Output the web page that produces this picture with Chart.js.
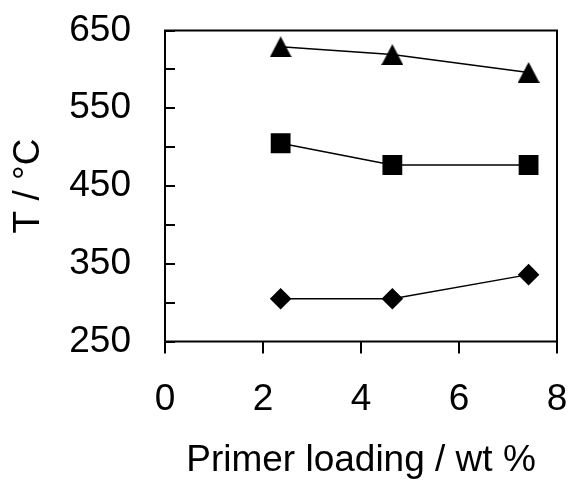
<!DOCTYPE html>
<html><head><meta charset="utf-8">
<script src="https://cdn.jsdelivr.net/npm/chart.js@4"></script>
<style>html,body{margin:0;padding:0;background:#fff}</style>
</head><body>
<canvas id="c" width="571" height="480"></canvas>
<script>
const primerLoading = [2.36, 4.64, 7.42];
const seriesTriangle = [629, 619, 596];
const seriesSquare = [505, 477, 477];
const seriesDiamond = [305, 305, 336];
const yLabelTicks = [250, 350, 450, 550, 650];
const xTitle = 'Primer loading / wt %';
const yTitle = 'T / °C';

function triangleImg(w, h) {
  const c = document.createElement('canvas');
  c.width = w; c.height = h;
  const g = c.getContext('2d');
  g.fillStyle = '#000';
  g.beginPath(); g.moveTo(w / 2, 0); g.lineTo(w, h); g.lineTo(0, h); g.closePath(); g.fill();
  return c;
}
const toPts = ys => primerLoading.map((x, i) => ({x, y: ys[i]}));

const framePlugin = {
  id: 'frame',
  afterDatasetsDraw(chart) {
    const {ctx, chartArea: a, scales: {x, y}} = chart;
    ctx.save();
    ctx.strokeStyle = '#000';
    ctx.lineWidth = 2;
    ctx.strokeRect(a.left, a.top, a.right - a.left, a.bottom - a.top);
    y.ticks.forEach(t => {
      const py = Math.round(y.getPixelForValue(t.value));
      ctx.beginPath(); ctx.moveTo(a.left, py); ctx.lineTo(a.left + 10, py); ctx.stroke();
    });
    x.ticks.forEach(t => {
      const px = Math.round(x.getPixelForValue(t.value));
      ctx.beginPath(); ctx.moveTo(px, a.bottom); ctx.lineTo(px, a.bottom + 12); ctx.stroke();
    });
    ctx.restore();
  }
};

Chart.defaults.font.family = '"Liberation Sans", Arial, sans-serif';
Chart.defaults.color = '#000';

const common = {borderColor: '#000', backgroundColor: '#000', borderWidth: 1.5, pointBorderWidth: 0, pointBackgroundColor: '#000', tension: 0, showLine: true};
const clear = 'rgba(0,0,0,0)';

new Chart(document.getElementById('c'), {
  type: 'line',
  data: {
    datasets: [
      {...common, label: 'triangle', data: toPts(seriesTriangle), pointStyle: triangleImg(22, 21)},
      {...common, label: 'square', data: toPts(seriesSquare), pointStyle: 'rect', pointRadius: 14},
      {...common, label: 'diamond', data: toPts(seriesDiamond), pointStyle: 'rectRot', pointRadius: 10.8}
    ]
  },
  options: {
    responsive: false,
    devicePixelRatio: 1,
    animation: false,
    layout: {padding: {top: 30.5, right: 10, left: 0, bottom: 0}},
    plugins: {legend: {display: false}, tooltip: {enabled: false}},
    scales: {
      x: {
        type: 'linear', min: 0, max: 8,
        ticks: {stepSize: 2, font: {size: 37}, padding: 0, maxRotation: 0},
        grid: {drawOnChartArea: false, drawTicks: true, tickLength: 36, color: clear},
        border: {display: false},
        title: {display: true, text: xTitle, font: {size: 37, lineHeight: 1}, padding: {top: 0, bottom: 1}},
        afterFit(s) { s.height = 138.5; }
      },
      y: {
        type: 'linear', min: 250, max: 650,
        ticks: {stepSize: 50, autoSkip: false, font: {size: 37}, padding: 0,
          callback: v => yLabelTicks.includes(v) ? String(v) : ''},
        grid: {drawOnChartArea: false, drawTicks: true, tickLength: 34, color: clear},
        border: {display: false},
        title: {display: true, text: yTitle, font: {size: 37, lineHeight: 1}, padding: {top: 10.5, bottom: 0}},
        afterFit(s) { s.width = 165; }
      }
    }
  },
  plugins: [framePlugin]
});
</script>
</body></html>
